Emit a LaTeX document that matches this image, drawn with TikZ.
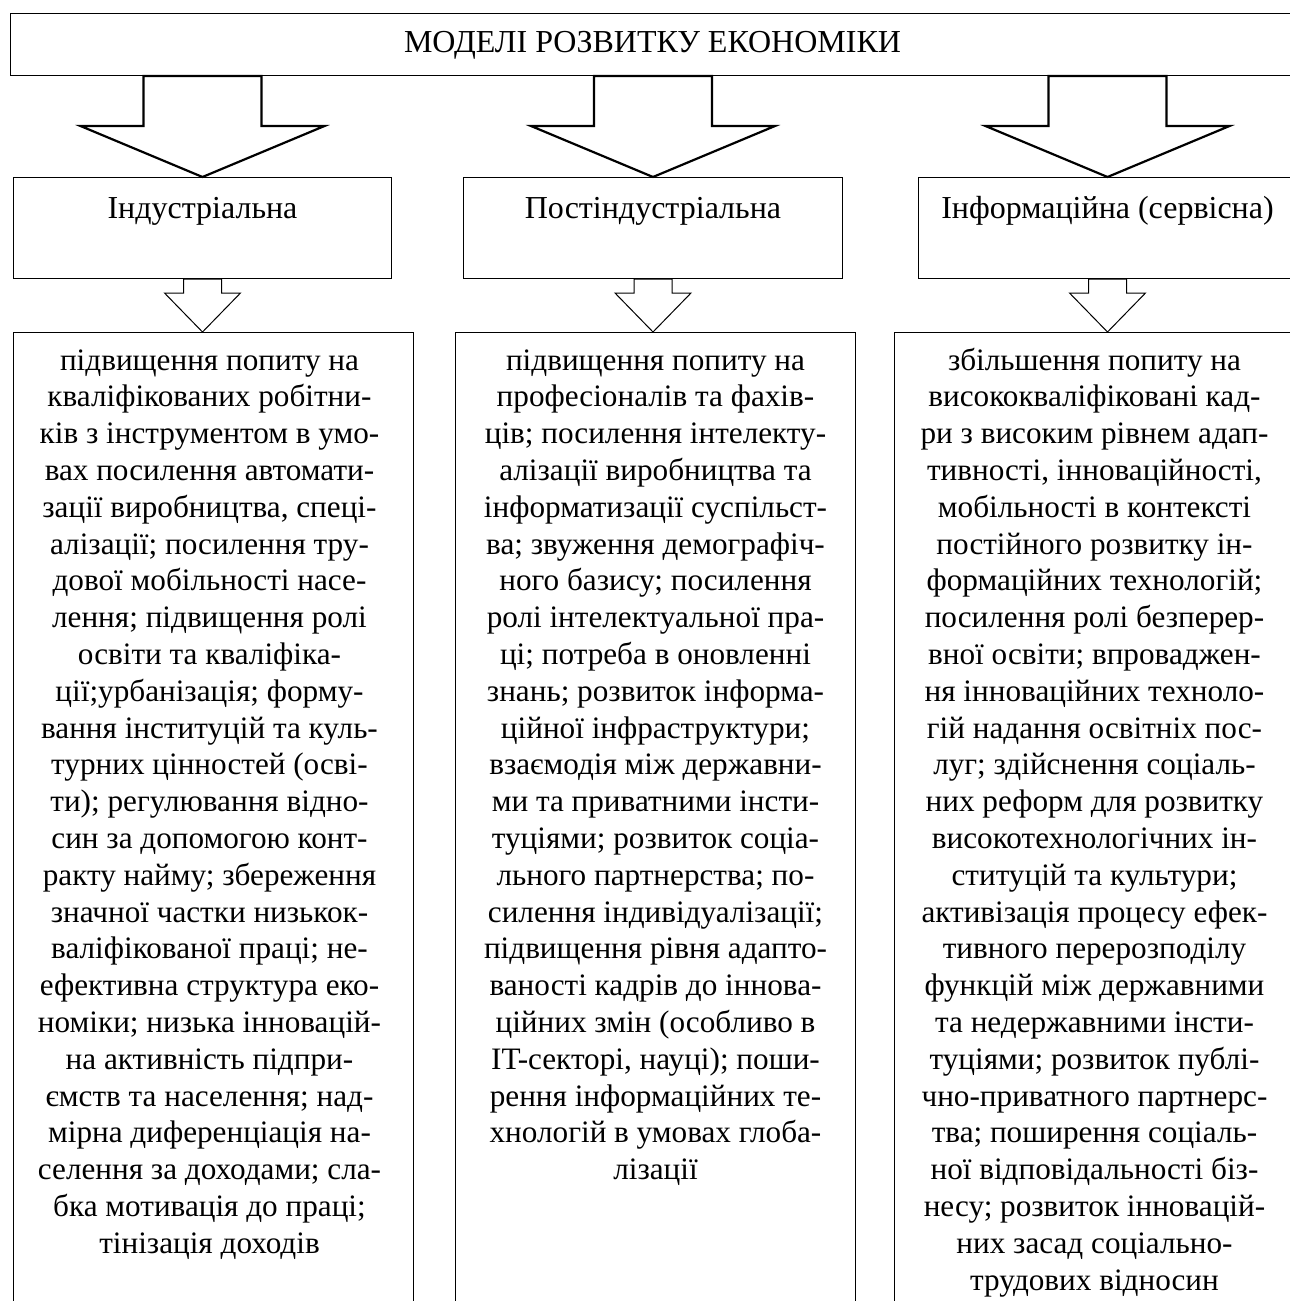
\documentclass[tikz,border=0pt]{standalone}
\usepackage{fontspec}
\setmainfont{Liberation Serif}
\usetikzlibrary{calc, positioning}

\begin{document}
\begin{tikzpicture}[x=0.5pt, y=-0.5pt,
  every node/.style={font=\fontsize{16}{18.4}\selectfont, inner sep=0pt},
  box/.style={draw, line width=0.5pt, rectangle, anchor=north west},
  bigarr/.style={draw, line width=1.1pt, fill=white, line join=miter},
  smallarr/.style={draw, line width=0.5pt, fill=white},
  txt/.style={align=center, anchor=north, font=\fontsize{15.6}{18.4}\selectfont}]
\useasboundingbox (0,0) rectangle (1290,1301);
\clip (0,0) rectangle (1290,1301);

% boxes
\node[box, minimum width=642.5pt, minimum height=31pt] (top) at (10,13) {};
\node[box, minimum width=189pt, minimum height=50.5pt] (ind) at (13,177) {};
\node[box, minimum width=189.5pt, minimum height=50.5pt] (post) at (463,177) {};
\node[box, minimum width=189pt, minimum height=50.5pt] (inf) at (918,177) {};
\node[box, minimum width=200pt, minimum height=500pt] (d1) at (13,332) {};
\node[box, minimum width=200pt, minimum height=500pt] (d2) at (455,332) {};
\node[box, minimum width=200pt, minimum height=500pt] (d3) at (894,332) {};

% big arrows
\draw[bigarr] (ind.north) -- ++(-122,-51) -- ++(63,0) -- ($(ind.north |- top.south)+(-59,0)$) -- ++(118,0) -- ($(ind.north)+(59,-51)$) -- ++(63,0) -- cycle;
\draw[bigarr] (post.north) -- ++(-122,-51) -- ++(63,0) -- ($(post.north |- top.south)+(-59,0)$) -- ++(118,0) -- ($(post.north)+(59,-51)$) -- ++(63,0) -- cycle;
\draw[bigarr] (inf.north) -- ++(-122,-51) -- ++(63,0) -- ($(inf.north |- top.south)+(-59,0)$) -- ++(118,0) -- ($(inf.north)+(59,-51)$) -- ++(63,0) -- cycle;

% small arrows
\coordinate (tip1) at (ind.south |- d1.north);
\coordinate (tip2) at (post.south |- d2.north);
\coordinate (tip3) at (inf.south |- d3.north);
\draw[smallarr] (tip1) -- ++(-38,-39) -- ++(19,0) -- ($(ind.south)+(-19,0)$) -- ++(38,0) -- ($(tip1)+(19,-39)$) -- ++(19,0) -- cycle;
\draw[smallarr] (tip2) -- ++(-38,-39) -- ++(19,0) -- ($(post.south)+(-19,0)$) -- ++(38,0) -- ($(tip2)+(19,-39)$) -- ++(19,0) -- cycle;
\draw[smallarr] (tip3) -- ++(-38,-39) -- ++(19,0) -- ($(inf.south)+(-19,0)$) -- ++(38,0) -- ($(tip3)+(19,-39)$) -- ++(19,0) -- cycle;

% labels
\node[anchor=base] (toptext) at (652.5,53) {МОДЕЛІ РОЗВИТКУ ЕКОНОМІКИ};
\node[anchor=base] (indtext) at (ind.center |- 0,218) {Індустріальна};
\node[anchor=base] (posttext) at (post.center |- 0,218) {Постіндустріальна};
\node[anchor=base] (inftext) at (inf.center |- 0,218) {Інформаційна (сервісна)};

\node[txt] (d1text) at ($(d1.north |- 0,344)+(-4,0)$) {\strut підвищення попиту на\\
кваліфікованих робітни-\\
ків з інструментом в умо-\\
вах посилення автомати-\\
зації виробництва, спеці-\\
алізації; посилення тру-\\
дової мобільності насе-\\
лення; підвищення ролі\\
освіти та кваліфіка-\\
ції;урбанізація; форму-\\
вання інституцій та куль-\\
турних цінностей (осві-\\
ти); регулювання відно-\\
син за допомогою конт-\\
ракту найму; збереження\\
значної частки низькок-\\
валіфікованої праці; не-\\
ефективна структура еко-\\
номіки; низька інновацій-\\
на активність підпри-\\
ємств та населення; над-\\
мірна диференціація на-\\
селення за доходами; сла-\\
бка мотивація до праці;\\
тінізація доходів};

\node[txt] (d2text) at (d2.north |- 0,344) {\strut підвищення попиту на\\
професіоналів та фахів-\\
ців; посилення інтелекту-\\
алізації виробництва та\\
інформатизації суспільст-\\
ва; звуження демографіч-\\
ного базису; посилення\\
ролі інтелектуальної пра-\\
ці; потреба в оновленні\\
знань; розвиток інформа-\\
ційної інфраструктури;\\
взаємодія між державни-\\
ми та приватними інсти-\\
туціями; розвиток соціа-\\
льного партнерства; по-\\
силення індивідуалізації;\\
підвищення рівня адапто-\\
ваності кадрів до іннова-\\
ційних змін (особливо в\\
IT-секторі, науці); поши-\\
рення інформаційних те-\\
хнологій в умовах глоба-\\
лізації};

\node[txt] (d3text) at (d3.north |- 0,344) {\strut збільшення попиту на\\
висококваліфіковані кад-\\
ри з високим рівнем адап-\\
тивності, інноваційності,\\
мобільності в контексті\\
постійного розвитку ін-\\
формаційних технологій;\\
посилення ролі безперер-\\
вної освіти; впроваджен-\\
ня інноваційних техноло-\\
гій надання освітніх пос-\\
луг; здійснення соціаль-\\
них реформ для розвитку\\
високотехнологічних ін-\\
ституцій та культури;\\
активізація процесу ефек-\\
тивного перерозподілу\\
функцій між державними\\
та недержавними інсти-\\
туціями; розвиток публі-\\
чно-приватного партнерс-\\
тва; поширення соціаль-\\
ної відповідальності біз-\\
несу; розвиток інновацій-\\
них засад соціально-\\
трудових відносин};
\end{tikzpicture}
\end{document}
